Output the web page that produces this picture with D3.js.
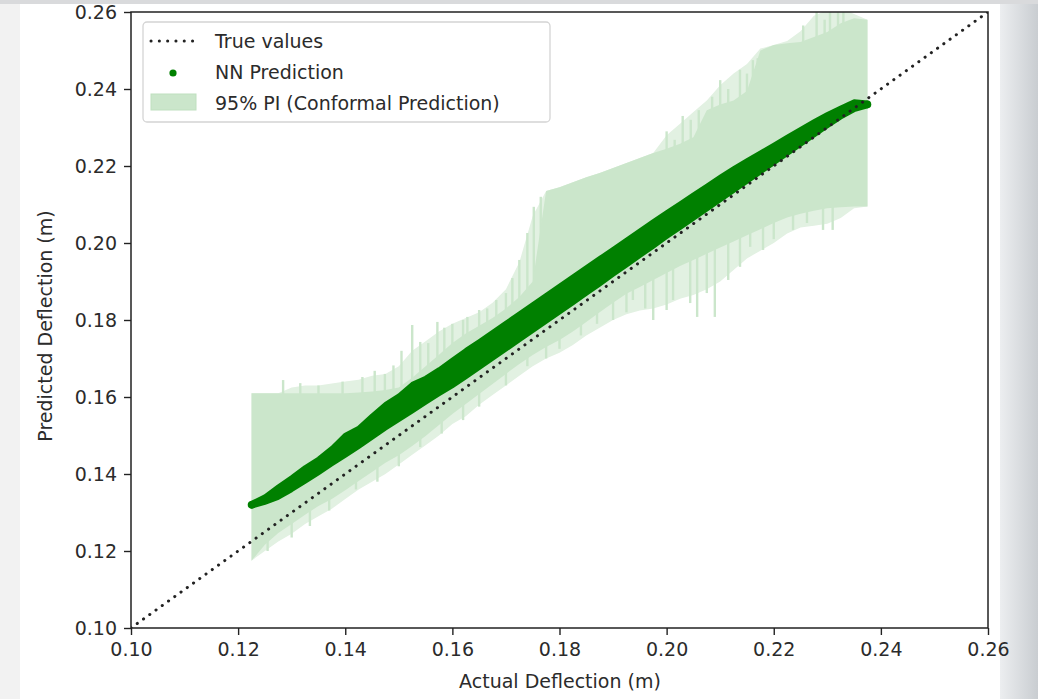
<!DOCTYPE html>
<html>
<head>
<meta charset="utf-8">
<script src="https://cdn.jsdelivr.net/npm/d3@7"></script>
<style>
  html, body { margin: 0; padding: 0; background: #e9eaec; }
  svg { display: block; }
  text { font-family: "DejaVu Sans", sans-serif; }
</style>
</head>
<body>
<svg id="chart" width="1038" height="699"></svg>
<script>
//Tick labels

const xTicks = [0.10, 0.12, 0.14, 0.16, 0.18, 0.20, 0.22, 0.24, 0.26];
const yTicks = [0.10, 0.12, 0.14, 0.16, 0.18, 0.20, 0.22, 0.24, 0.26];

//Actual deflection (sorted) where the band and prediction cloud are read

const actual = [0.1225, 0.125, 0.1275, 0.13, 0.1325, 0.135, 0.1375, 0.14, 0.1425, 0.145,
  0.1475, 0.15, 0.1525, 0.155, 0.1575, 0.16, 0.1625, 0.165, 0.1675, 0.17,
  0.1725, 0.175, 0.1775, 0.18, 0.1825, 0.185, 0.1875, 0.19, 0.1925, 0.195,
  0.1975, 0.20, 0.2025, 0.205, 0.2075, 0.21, 0.2125, 0.215, 0.2175, 0.22,
  0.2225, 0.225, 0.2275, 0.23, 0.2325, 0.235, 0.2375];

//NN prediction cloud: lower and upper edge of the dense scatter

const predLow = [0.1315, 0.1325, 0.1338, 0.1358, 0.1380, 0.1402, 0.1425, 0.1447, 0.1470, 0.1494,
  0.1518, 0.1540, 0.1562, 0.1585, 0.1607, 0.1628, 0.1651, 0.1675, 0.1699, 0.1723,
  0.1747, 0.1771, 0.1795, 0.1819, 0.1843, 0.1868, 0.1892, 0.1917, 0.1941, 0.1966,
  0.1990, 0.2015, 0.2039, 0.2063, 0.2087, 0.2111, 0.2135, 0.2159, 0.2183, 0.2207,
  0.2231, 0.2255, 0.2279, 0.2303, 0.2326, 0.2345, 0.2355];
const predHigh = [0.1325, 0.1342, 0.1368, 0.1392, 0.1418, 0.1440, 0.1468, 0.1502, 0.1520, 0.1552,
  0.1582, 0.1604, 0.1634, 0.1650, 0.1672, 0.1697, 0.1722, 0.1745, 0.1769, 0.1793,
  0.1817, 0.1841, 0.1865, 0.1889, 0.1913, 0.1937, 0.1961, 0.1985, 0.2009, 0.2033,
  0.2057, 0.2080, 0.2103, 0.2126, 0.2149, 0.2172, 0.2194, 0.2215, 0.2235, 0.2255,
  0.2276, 0.2296, 0.2316, 0.2335, 0.2352, 0.2368, 0.2365];

//95% PI (conformal): lower and upper bound, solid part

const piLower = [0.1175, 0.1216, 0.1247, 0.1270, 0.1294, 0.1317, 0.1335, 0.1358, 0.1382, 0.1405,
  0.1429, 0.1449, 0.1473, 0.1499, 0.1527, 0.1556, 0.1582, 0.1608, 0.1634, 0.1660,
  0.1686, 0.1709, 0.1730, 0.1748, 0.1770, 0.1795, 0.1820, 0.1845, 0.1868, 0.1886,
  0.1904, 0.1922, 0.1940, 0.1956, 0.1972, 0.1988, 0.2004, 0.2020, 0.2036, 0.2052,
  0.2066, 0.2076, 0.2084, 0.2090, 0.2093, 0.2095, 0.2095];
const piUpper = [0.1610, 0.1610, 0.1610, 0.1610, 0.1610, 0.1610, 0.1610, 0.1610, 0.1612, 0.1614,
  0.1618, 0.1625, 0.1650, 0.1680, 0.1710, 0.1740, 0.1765, 0.1785, 0.1805, 0.1830,
  0.1860, 0.1900, 0.2135, 0.2145, 0.2158, 0.2171, 0.2182, 0.2195, 0.2208, 0.2221,
  0.2234, 0.2245, 0.2258, 0.2275, 0.2345, 0.2360, 0.2370, 0.2395, 0.2500, 0.2514,
  0.2519, 0.2522, 0.2535, 0.2548, 0.2571, 0.2584, 0.2580];

//Hazy outer reach of the spiky bounds

const piLowerOuter = [0.1175, 0.1200, 0.1225, 0.1245, 0.1270, 0.1290, 0.1310, 0.1335, 0.1360, 0.1380,
  0.1400, 0.1425, 0.1450, 0.1475, 0.1500, 0.1530, 0.1550, 0.1580, 0.1605, 0.1630,
  0.1655, 0.1680, 0.1700, 0.1715, 0.1735, 0.1760, 0.1780, 0.1800, 0.1815, 0.1825,
  0.1830, 0.1840, 0.1855, 0.1865, 0.1880, 0.1900, 0.1930, 0.1960, 0.1980, 0.2000,
  0.2025, 0.2040, 0.2045, 0.2050, 0.2065, 0.2090, 0.2095];
const piUpperOuter = [0.1610, 0.1610, 0.1610, 0.1625, 0.1630, 0.1630, 0.1635, 0.1640, 0.1645, 0.1655,
  0.1660, 0.1680, 0.1720, 0.1745, 0.1770, 0.1790, 0.1805, 0.1820, 0.1845, 0.1880,
  0.1950, 0.2070, 0.2135, 0.2145, 0.2158, 0.2171, 0.2182, 0.2195, 0.2208, 0.2221,
  0.2234, 0.2280, 0.2310, 0.2340, 0.2370, 0.2410, 0.2440, 0.2465, 0.2505, 0.2514,
  0.2525, 0.2550, 0.2590, 0.2605, 0.2610, 0.2595, 0.2580];

//Thin spikes of the PI bound

const upSpikeX = [0.1284, 0.1316, 0.1350, 0.1395, 0.1432, 0.1455, 0.1474, 0.1490, 0.1505, 0.1525,
  0.1540, 0.1555, 0.1572, 0.1585, 0.1600, 0.1620, 0.1628, 0.1650, 0.1665, 0.1682,
  0.1700, 0.1712, 0.1725, 0.1740, 0.1752, 0.1765,
  0.2000, 0.2015, 0.2030, 0.2045, 0.2060, 0.2085, 0.2100, 0.2115, 0.2137, 0.2150,
  0.2161, 0.2170, 0.2255, 0.2280, 0.2295, 0.2305, 0.2320, 0.2330];
const upSpikeY = [0.1644, 0.1636, 0.1630, 0.1640, 0.1652, 0.1668, 0.1660, 0.1682, 0.1720, 0.1787,
  0.1743, 0.1740, 0.1795, 0.1780, 0.1790, 0.1800, 0.1808, 0.1826, 0.1830, 0.1852,
  0.1870, 0.1909, 0.1956, 0.2026, 0.2094, 0.2120,
  0.2290, 0.2268, 0.2330, 0.2320, 0.2345, 0.2380, 0.2423, 0.2400, 0.2450, 0.2440,
  0.2475, 0.2480, 0.2565, 0.2620, 0.2580, 0.2620, 0.2600, 0.2630];

const lowSpikeX = [0.1255, 0.1300, 0.1334, 0.1370, 0.1420, 0.1460, 0.1500, 0.1540, 0.1580, 0.1620,
  0.1650, 0.1700, 0.1740, 0.1775, 0.1800, 0.1840, 0.1870, 0.1900, 0.1925, 0.1937,
  0.1960, 0.1975, 0.2000, 0.2012, 0.2044, 0.2057, 0.2075, 0.2090, 0.2115, 0.2137,
  0.2156, 0.2180, 0.2200, 0.2236, 0.2262, 0.2292, 0.2310];
const lowSpikeY = [0.1200, 0.1235, 0.1265, 0.1305, 0.1360, 0.1380, 0.1420, 0.1470, 0.1505, 0.1540,
  0.1575, 0.1630, 0.1680, 0.1700, 0.1725, 0.1760, 0.1790, 0.1800, 0.1820, 0.1852,
  0.1830, 0.1800, 0.1826, 0.1852, 0.1844, 0.1808, 0.1870, 0.1808, 0.1904, 0.1938,
  0.1990, 0.1982, 0.2010, 0.2034, 0.2052, 0.2034, 0.2034];

const legendItems = ["True values", "NN Prediction", "95% PI (Conformal Prediction)"];

//Colours

const green = "#008000";
const bandColor = "#cbe6cb";
const hazeColor = "#e2f1e2";

const svg = d3.select("#chart");

//Page background (screenshot of a slide) and the white figure

const defs = svg.append("defs");
const grad = defs.append("linearGradient").attr("id", "edge").attr("x1", 0).attr("x2", 1);
grad.append("stop").attr("offset", 0).attr("stop-color", "#eceef0");
grad.append("stop").attr("offset", 1).attr("stop-color", "#c9cdd1");

svg.append("rect").attr("width", 1038).attr("height", 699).attr("fill", "#d9dadc");
svg.append("rect").attr("x", 0).attr("y", 4).attr("width", 20).attr("height", 695).attr("fill", "#f2f2f2");
svg.append("rect").attr("x", 1000).attr("y", 4).attr("width", 38).attr("height", 695).attr("fill", "url(#edge)");
svg.append("rect").attr("x", 20).attr("y", 4).attr("width", 980).attr("height", 695).attr("fill", "#ffffff");

//Scales

const x = d3.scaleLinear().domain([0.10, 0.26]).range([131, 988]);
const y = d3.scaleLinear().domain([0.10, 0.26]).range([628, 12]);

defs.append("clipPath").attr("id", "plot")
  .append("rect").attr("x", 131).attr("y", 12).attr("width", 857).attr("height", 616);

const plot = svg.append("g").attr("clip-path", "url(#plot)");

//Hazy spiky reach, then the spikes, then the solid band

plot.append("path")
  .datum(actual)
  .attr("fill", hazeColor)
  .attr("d", d3.area()
    .x(d => x(d))
    .y0((d, i) => y(piLowerOuter[i]))
    .y1((d, i) => y(piUpperOuter[i])));

plot.append("g").selectAll("line")
  .data(upSpikeX)
  .join("line")
  .attr("x1", d => x(d)).attr("x2", d => x(d))
  .attr("y1", d => y(d)).attr("y2", (d, i) => y(upSpikeY[i]))
  .attr("stroke", bandColor).attr("stroke-width", 2.4);

plot.append("g").selectAll("line")
  .data(lowSpikeX)
  .join("line")
  .attr("x1", d => x(d)).attr("x2", d => x(d))
  .attr("y1", d => y(d)).attr("y2", (d, i) => y(lowSpikeY[i]))
  .attr("stroke", bandColor).attr("stroke-width", 2.4);

plot.append("path")
  .datum(actual)
  .attr("fill", bandColor)
  .attr("d", d3.area()
    .x(d => x(d))
    .y0((d, i) => y(piLower[i]))
    .y1((d, i) => y(piUpper[i])));

//NN prediction cloud

plot.append("path")
  .datum(actual)
  .attr("fill", green)
  .attr("stroke", green)
  .attr("stroke-width", 4)
  .attr("stroke-linejoin", "round")
  .attr("d", d3.area()
    .x(d => x(d))
    .y0((d, i) => y(predLow[i]))
    .y1((d, i) => y(predHigh[i])));

//single points at both ends of the cloud
plot.append("g").selectAll("circle")
  .data([0, actual.length - 1])
  .join("circle")
  .attr("cx", i => x(actual[i]))
  .attr("cy", i => y((predLow[i] + predHigh[i]) / 2))
  .attr("r", 3.8)
  .attr("fill", green);

//True values

plot.append("line")
  .attr("x1", x(0.10)).attr("y1", y(0.10))
  .attr("x2", x(0.26)).attr("y2", y(0.26))
  .attr("stroke", "#222").attr("stroke-width", 3)
  .attr("stroke-linecap", "round")
  .attr("stroke-dasharray", "0.1,7.6");

//Axes

const fmt = d3.format(".2f");

const xAxis = svg.append("g")
  .attr("transform", "translate(0,628)")
  .call(d3.axisBottom(x).tickValues(xTicks).tickFormat(fmt).tickSize(7).tickSizeOuter(0).tickPadding(8));

const yAxis = svg.append("g")
  .attr("transform", "translate(131,0)")
  .call(d3.axisLeft(y).tickValues(yTicks).tickFormat(fmt).tickSize(7).tickSizeOuter(0).tickPadding(7));

[xAxis, yAxis].forEach(a => {
  a.select(".domain").remove();
  a.selectAll("line").attr("stroke", "#222").attr("stroke-width", 1.4);
  a.selectAll("text").attr("font-size", 19).attr("fill", "#2b2b2b")
    .attr("font-family", "DejaVu Sans, sans-serif");
});

svg.append("rect")
  .attr("x", 131).attr("y", 12).attr("width", 857).attr("height", 616)
  .attr("fill", "none").attr("stroke", "#222").attr("stroke-width", 1.5);

//Axis titles

svg.append("text")
  .attr("x", 560).attr("y", 688)
  .attr("text-anchor", "middle")
  .attr("font-size", 19).attr("fill", "#2b2b2b")
  .text("Actual Deflection (m)");

svg.append("text")
  .attr("transform", "translate(52,326) rotate(-90)")
  .attr("text-anchor", "middle")
  .attr("font-size", 19).attr("fill", "#2b2b2b")
  .text("Predicted Deflection (m)");

//Legend

const legend = svg.append("g");

legend.append("rect")
  .attr("x", 143).attr("y", 22).attr("width", 407).attr("height", 100)
  .attr("rx", 4)
  .attr("fill", "#ffffff").attr("fill-opacity", 0.85)
  .attr("stroke", "#d4d4d4").attr("stroke-width", 1.3);

legend.append("line")
  .attr("x1", 151).attr("x2", 193).attr("y1", 41).attr("y2", 41)
  .attr("stroke", "#222").attr("stroke-width", 3)
  .attr("stroke-linecap", "round").attr("stroke-dasharray", "0.1,8.2");

legend.append("circle")
  .attr("cx", 173).attr("cy", 73).attr("r", 3.6).attr("fill", green);

legend.append("rect")
  .attr("x", 151).attr("y", 94).attr("width", 45).attr("height", 16)
  .attr("fill", bandColor).attr("stroke", "#bfe0bf").attr("stroke-width", 1);

legend.selectAll("text")
  .data(legendItems)
  .join("text")
  .attr("x", 215)
  .attr("y", (d, i) => 41 + i * 31)
  .attr("dy", "0.35em")
  .attr("font-size", 19).attr("fill", "#2b2b2b")
  .text(d => d);
</script>
</body>
</html>
